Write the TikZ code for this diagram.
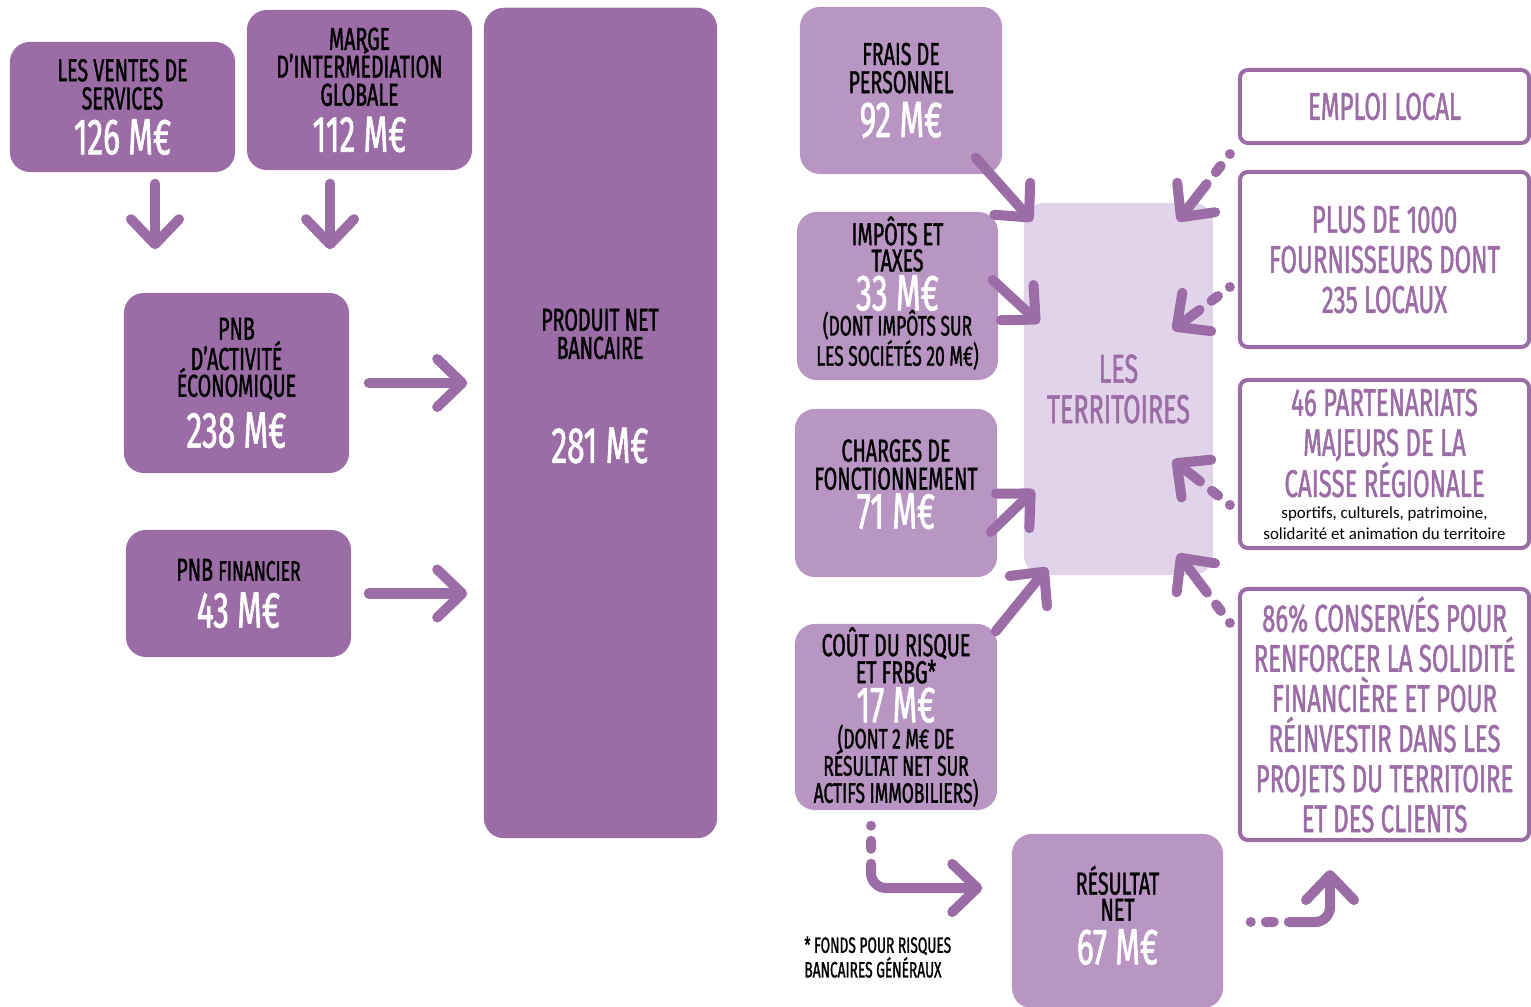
\documentclass[tikz,border=0pt]{standalone}
\usepackage{fontspec}
\usepackage{xcolor}
\usepackage{tikz}
\usetikzlibrary{arrows.meta,positioning,calc}
\setmainfont{Fira Sans}[FakeStretch=0.62, FakeBold=1.2]
\newfontfamily\plainfont{Carlito}
\definecolor{plum}{HTML}{9B6CA6}
\definecolor{lilac}{HTML}{B895C2}
\definecolor{mist}{HTML}{E1D3E9}
\newcommand{\labfont}{\fontsize{9}{8}\selectfont}
\newcommand{\valfont}{\fontsize{14.5}{15}\selectfont\color{white}}
\newcommand{\subfont}{\fontsize{8}{7.5}\selectfont}
\newcommand{\outfont}{\fontsize{11}{11.4}\selectfont}
\newcommand{\notefont}{\plainfont\fontsize{4.8}{6}\selectfont\color{black}}
\tikzset{
  darkbox/.style={fill=plum, rounded corners=2mm, align=center, inner sep=0pt, font=\labfont},
  lightbox/.style={fill=lilac, rounded corners=2mm, align=center, inner sep=0pt, font=\labfont},
  framebox/.style={draw=plum, line width=0.4mm, fill=white, rounded corners=0.8mm, align=center, inner sep=0pt, text=plum, font=\outfont},
  flow/.style={draw=plum, line width=1mm, line cap=round, -{Straight Barb[round,length=2.5mm,width=4.8mm]}},
  dotflow/.style={flow, dash pattern=on 0mm off 1.5mm on 0.8mm off 1.5mm on 40mm},
}

\begin{document}
\begin{tikzpicture}[x=0.01cm, y=-0.01cm]
    \useasboundingbox (0,0) rectangle (1531,1007);

    % Revenue side
    \node[darkbox, minimum width=22.5mm, minimum height=13mm] (ventes) at (122.5,107)
        {LES VENTES DE\\SERVICES\\[0.6mm]{\valfont 126 M€}};
    \node[darkbox, minimum width=22.5mm, minimum height=16mm] (marge) at (359.5,90)
        {MARGE\\[-0.5mm]D'INTERMÉDIATION\\GLOBALE\\[0.7mm]{\valfont 112 M€}};
    \node[darkbox, minimum width=22.5mm, minimum height=18mm] (pnbact) at (236.5,383)
        {PNB\\[-0.2mm]D'ACTIVITÉ\\[-0.6mm]ÉCONOMIQUE\\[0.9mm]{\valfont 238 M€}};
    \node[darkbox, minimum width=22.5mm, minimum height=12.7mm] (pnbfin) at (238.5,593.5)
        {PNB {\subfont FINANCIER}\\[0.8mm]{\valfont 43 M€}};
    \node[darkbox, minimum width=23.3mm, minimum height=83mm] (pnb) at (600.5,423) {};
    \node[font=\labfont, align=center] (pnbtxt) at (600,386)
        {PRODUIT NET\\BANCAIRE\\[6.5mm]{\valfont 281 M€}};

    % Costs
    \node[lightbox, minimum width=20.2mm, minimum height=16.7mm] (frais) at (901,90.5)
        {FRAIS DE\\PERSONNEL\\[0.5mm]{\valfont 92 M€}};
    \node[lightbox, minimum width=20.1mm, minimum height=16.8mm, text depth=1mm] (impots) at (897.5,296)
        {IMPÔTS ET\\[-0.2mm]TAXES\\{\valfont 33 M€}\\[-0.3mm]{\subfont (DONT IMPÔTS SUR}\\[-0.3mm]{\subfont LES SOCIÉTÉS 20 M€)}};
    \node[lightbox, minimum width=20.2mm, minimum height=16.8mm, text depth=1.8mm] (charges) at (896,493)
        {CHARGES DE\\FONCTIONNEMENT\\{\valfont 71 M€}};
    \node[lightbox, minimum width=20.2mm, minimum height=18.6mm] (cout) at (896,717)
        {COÛT DU RISQUE\\[-0.1mm]ET FRBG*\\{\valfont 17 M€}\\[-0.2mm]{\subfont (DONT 2 M€ DE}\\[-0.6mm]{\subfont RÉSULTAT NET SUR}\\[-0.1mm]{\subfont ACTIFS IMMOBILIERS)}};
    \node[lightbox, minimum width=21.1mm, minimum height=17.4mm, text depth=1.2mm] (resultat) at (1117.5,921)
        {RÉSULTAT\\[-0.2mm]NET\\[0.5mm]{\valfont 67 M€}};
    \node[font=\fontsize{6.3}{7}\selectfont, align=left, anchor=north west] (note) at (792,924)
        {* FONDS POUR RISQUES\\BANCAIRES GÉNÉRAUX};

    % Territories
    \node[fill=mist, rounded corners=2mm, minimum width=18.9mm, minimum height=37.2mm,
          text=plum, align=center, font=\fontsize{11.5}{11.5}\selectfont] (terr) at (1118.5,389)
        {LES\\TERRITOIRES};
    \node[framebox, minimum width=28.9mm, minimum height=7.3mm] (emploi) at (1384.5,106.5) {EMPLOI LOCAL};
    \node[framebox, minimum width=28.9mm, minimum height=17.5mm] (fourn) at (1384.5,259.5)
        {PLUS DE 1000\\FOURNISSEURS DONT\\235 LOCAUX};
    \node[framebox, minimum width=28.9mm, minimum height=16.8mm] (parten) at (1384.5,464)
        {46 PARTENARIATS\\MAJEURS DE LA\\[-0.3mm]CAISSE RÉGIONALE\\[-1.9mm]{\notefont sportifs, culturels, patrimoine,}\\[-1.9mm]{\notefont solidarité et animation du territoire}};
    \node[framebox, minimum width=28.9mm, minimum height=25.1mm] (conserv) at (1384.5,714.5)
        {86\% CONSERVÉS POUR\\RENFORCER LA SOLIDITÉ\\FINANCIÈRE ET POUR\\RÉINVESTIR DANS LES\\PROJETS DU TERRITOIRE\\ET DES CLIENTS};

    % Arrows into PNB
    \draw[flow] ([shift={(32.5,11)}]ventes.south) -- ([shift={(-81.5,-43)}]pnbact.north);
    \draw[flow] ([shift={(-29.5,13)}]marge.south) -- ([shift={(93.5,-43)}]pnbact.north);
    \draw[flow] ([xshift=1.9mm]pnbact.east) -- ([xshift=-1.6mm]pnbact.east -| pnb.west);
    \draw[flow] ([xshift=1.7mm]pnbfin.east) -- ([xshift=-1.6mm]pnbfin.east -| pnb.west);

    % Arrows into the territories
    \draw[flow] ([shift={(-27,-17)}]frais.south east) -- ([shift={(9,19)}]terr.north west);
    \draw[flow] ([shift={(-6,-16)}]impots.east) -- ([shift={(16,-66)}]terr.west);
    \draw[flow] ([shift={(-7,39)}]charges.east) -- ([shift={(11,101)}]terr.west);
    \draw[flow] ([shift={(-2,8)}]cout.north east) -- ([shift={(24,-8)}]terr.south west);
    \draw[dotflow] ([shift={(-8,9)}]emploi.south west) -- ([shift={(-36,19)}]terr.north east);
    \draw[dotflow] ([shift={(-8,27.5)}]fourn.west) -- ([shift={(-41,-59)}]terr.east);
    \draw[dotflow] ([shift={(-8,41)}]parten.west) -- ([shift={(-41,71)}]terr.east);
    \draw[dotflow] ([shift={(-8,36)}]conserv.north west) -- ([shift={(-36,-22)}]terr.south east);

    % Result
    \draw[dotflow, rounded corners=1.5mm] ([shift={(-25,15)}]cout.south) |- ([shift={(-29,-33)}]resultat.west);
    \draw[dotflow, rounded corners=1.5mm] ([shift={(27,1)}]resultat.east) -| ([shift={(-54.5,28)}]conserv.south);
\end{tikzpicture}
\end{document}
